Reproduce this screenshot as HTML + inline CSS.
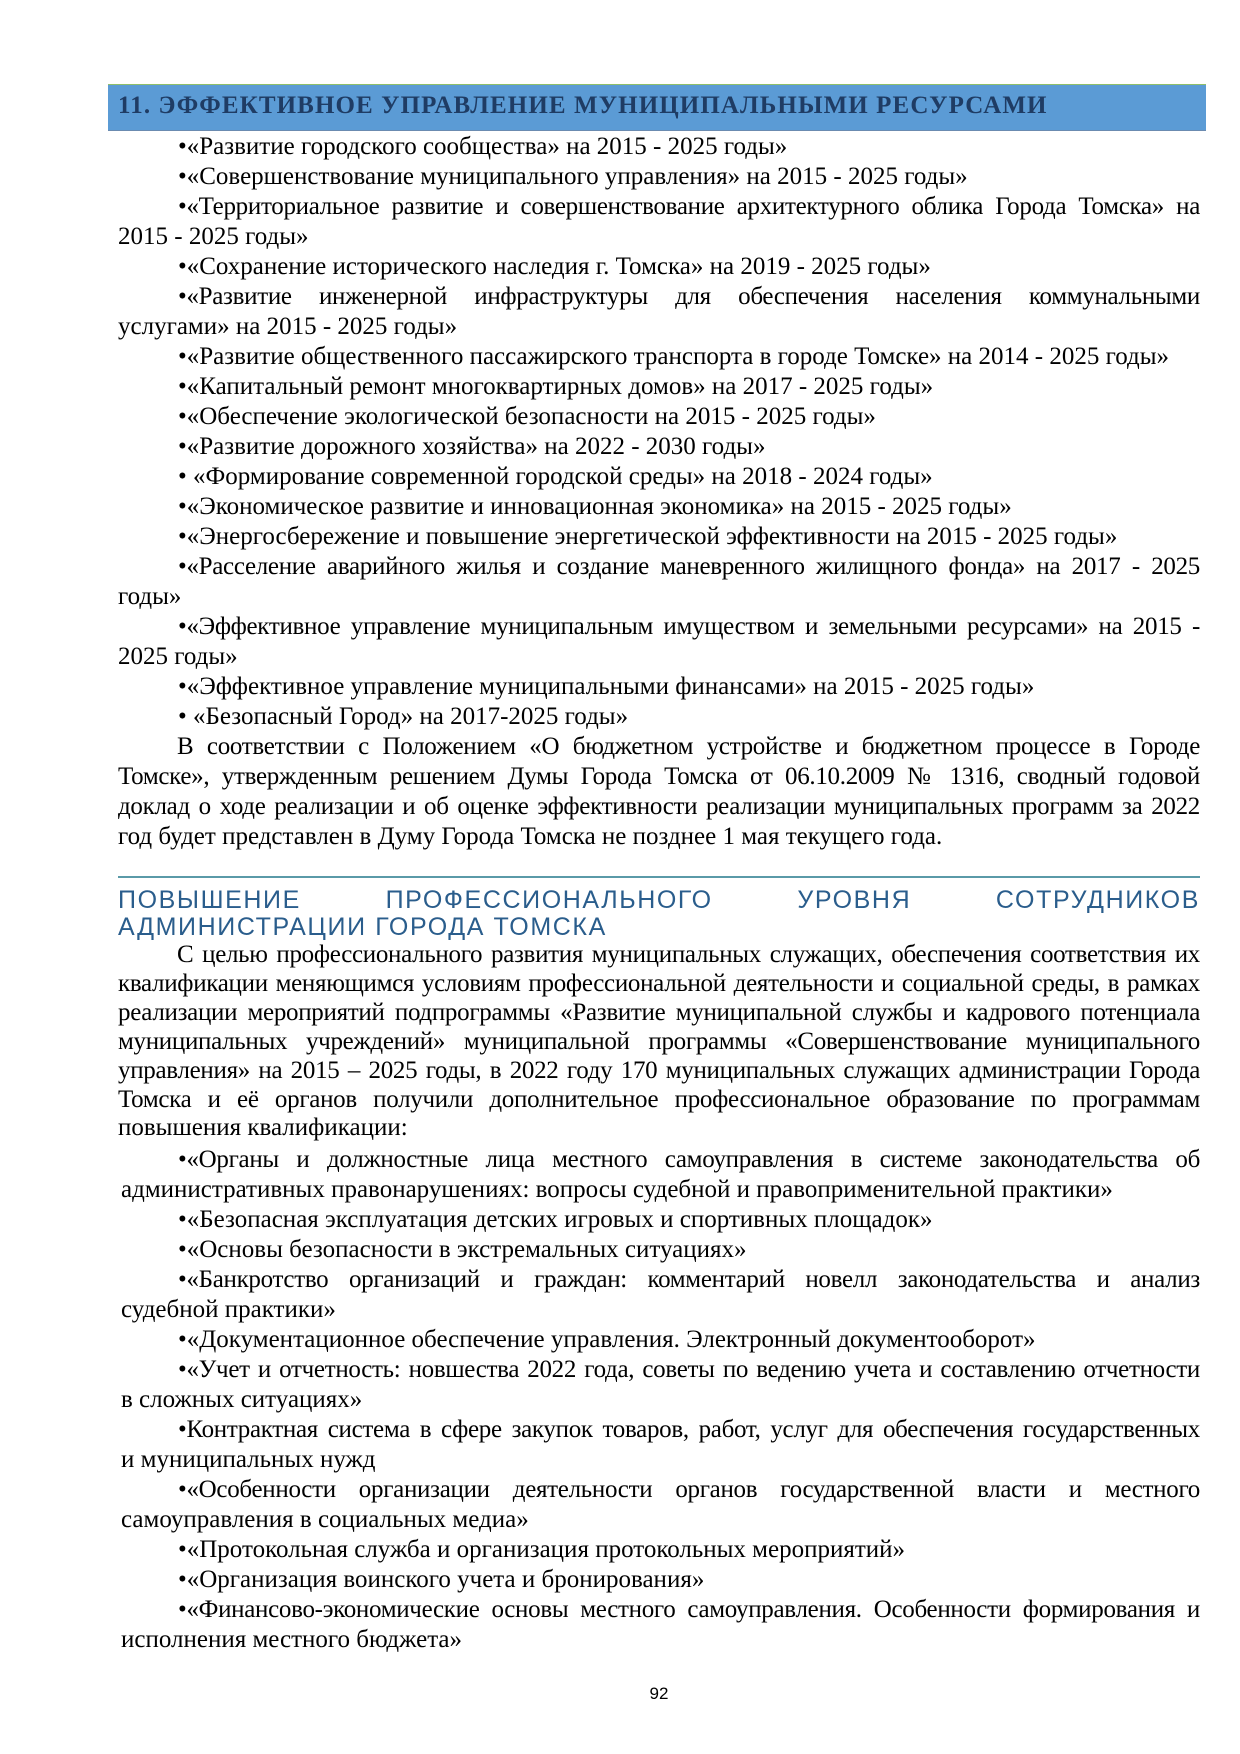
<!DOCTYPE html>
<html><head><meta charset="utf-8"><style>
body{margin:0;width:1240px;height:1754px;background:#fff;position:relative;overflow:hidden;font-family:"Liberation Serif","Noto Serif CJK SC",serif;color:#000}
.band{position:absolute;left:108px;top:84px;width:1098px;height:45px;background:#5b9bd5;border-top:1px solid #8fbf6a;border-bottom:1px solid #6b8bb0}
.title{position:absolute;left:118px;top:92px;font-weight:bold;font-size:25px;letter-spacing:1.1px;color:#1f3c64;white-space:nowrap}
.ln{position:absolute;left:118px;width:1082px;height:30px;line-height:30px;font-size:25px;white-space:nowrap;margin-top:-15px}
.j{text-align:justify;text-align-last:justify;white-space:normal;letter-spacing:-0.3px}
.b{left:178px;width:1022px}
.p{left:177px;width:1023px}
.s2{left:121px;width:1079px}
.h{font-family:"Liberation Sans",sans-serif;color:#2a5d8c;font-size:25px;letter-spacing:1.6px}
.rule{position:absolute;left:118px;top:876px;width:1082px;height:2px;background:#5a9aa8}
.pg{position:absolute;top:1684px;left:609px;width:100px;text-align:center;font-family:"Liberation Sans",sans-serif;font-size:17px}
</style></head><body>
<div class="band"></div>
<div class="title">11. ЭФФЕКТИВНОЕ УПРАВЛЕНИЕ МУНИЦИПАЛЬНЫМИ РЕСУРСАМИ</div>

<div class="ln b" style="top:147px">•«Развитие городского сообщества» на 2015 - 2025 годы»</div>
<div class="ln b" style="top:177px">•«Совершенствование муниципального управления» на 2015 - 2025 годы»</div>
<div class="ln b j" style="top:207px">•«Территориальное развитие и совершенствование архитектурного облика Города Томска» на</div>
<div class="ln" style="top:237px">2015 - 2025 годы»</div>
<div class="ln b" style="top:267px">•«Сохранение исторического наследия г. Томска» на 2019 - 2025 годы»</div>
<div class="ln b j" style="top:297px">•«Развитие инженерной инфраструктуры для обеспечения населения коммунальными</div>
<div class="ln" style="top:327px">услугами» на 2015 - 2025 годы»</div>
<div class="ln b" style="top:357px">•«Развитие общественного пассажирского транспорта в городе Томске» на 2014 - 2025 годы»</div>
<div class="ln b" style="top:387px">•«Капитальный ремонт многоквартирных домов» на 2017 - 2025 годы»</div>
<div class="ln b" style="top:417px">•«Обеспечение экологической безопасности на 2015 - 2025 годы»</div>
<div class="ln b" style="top:447px">•«Развитие дорожного хозяйства» на 2022 - 2030 годы»</div>
<div class="ln b" style="top:477px">• «Формирование современной городской среды» на 2018 - 2024 годы»</div>
<div class="ln b" style="top:507px">•«Экономическое развитие и инновационная экономика» на 2015 - 2025 годы»</div>
<div class="ln b" style="top:537px">•«Энергосбережение и повышение энергетической эффективности на 2015 - 2025 годы»</div>
<div class="ln b j" style="top:567px">•«Расселение аварийного жилья и создание маневренного жилищного фонда» на 2017 - 2025</div>
<div class="ln" style="top:597px">годы»</div>
<div class="ln b j" style="top:627px">•«Эффективное управление муниципальным имуществом и земельными ресурсами» на 2015 -</div>
<div class="ln" style="top:657px">2025 годы»</div>
<div class="ln b" style="top:687px">•«Эффективное управление муниципальными финансами» на 2015 - 2025 годы»</div>
<div class="ln b" style="top:717px">• «Безопасный Город» на 2017-2025 годы»</div>
<div class="ln p j" style="top:747px">В соответствии с Положением «О бюджетном устройстве и бюджетном процессе в Городе</div>
<div class="ln j" style="top:777px">Томске», утвержденным решением Думы Города Томска от 06.10.2009 № 1316, сводный годовой</div>
<div class="ln j" style="top:807px">доклад о ходе реализации и об оценке эффективности реализации муниципальных программ за 2022</div>
<div class="ln" style="top:837px">год будет представлен в Думу Города Томска не позднее 1 мая текущего года.</div>

<div class="rule"></div>
<div class="ln j h" style="top:900px">ПОВЫШЕНИЕ ПРОФЕССИОНАЛЬНОГО УРОВНЯ СОТРУДНИКОВ</div>
<div class="ln h" style="top:927px">АДМИНИСТРАЦИИ ГОРОДА ТОМСКА</div>

<div class="ln p j" style="top:955px">С целью профессионального развития муниципальных служащих, обеспечения соответствия их</div>
<div class="ln j" style="top:984px">квалификации меняющимся условиям профессиональной деятельности и социальной среды, в рамках</div>
<div class="ln j" style="top:1013px">реализации мероприятий подпрограммы «Развитие муниципальной службы и кадрового потенциала</div>
<div class="ln j" style="top:1042px">муниципальных учреждений» муниципальной программы «Совершенствование муниципального</div>
<div class="ln j" style="top:1071px">управления» на 2015 – 2025 годы, в 2022 году 170 муниципальных служащих администрации Города</div>
<div class="ln j" style="top:1100px">Томска и её органов получили дополнительное профессиональное образование по программам</div>
<div class="ln" style="top:1128px">повышения квалификации:</div>

<div class="ln b j" style="top:1160px">•«Органы и должностные лица местного самоуправления в системе законодательства об</div>
<div class="ln s2" style="top:1190px">административных правонарушениях: вопросы судебной и правоприменительной практики»</div>
<div class="ln b" style="top:1220px">•«Безопасная эксплуатация детских игровых и спортивных площадок»</div>
<div class="ln b" style="top:1250px">•«Основы безопасности в экстремальных ситуациях»</div>
<div class="ln b j" style="top:1280px">•«Банкротство организаций и граждан: комментарий новелл законодательства и анализ</div>
<div class="ln s2" style="top:1310px">судебной практики»</div>
<div class="ln b" style="top:1340px">•«Документационное обеспечение управления. Электронный документооборот»</div>
<div class="ln b j" style="top:1370px">•«Учет и отчетность: новшества 2022 года, советы по ведению учета и составлению отчетности</div>
<div class="ln s2" style="top:1400px">в сложных ситуациях»</div>
<div class="ln b j" style="top:1430px">•Контрактная система в сфере закупок товаров, работ, услуг для обеспечения государственных</div>
<div class="ln s2" style="top:1460px">и муниципальных нужд</div>
<div class="ln b j" style="top:1490px">•«Особенности организации деятельности органов государственной власти и местного</div>
<div class="ln s2" style="top:1520px">самоуправления в социальных медиа»</div>
<div class="ln b" style="top:1550px">•«Протокольная служба и организация протокольных мероприятий»</div>
<div class="ln b" style="top:1580px">•«Организация воинского учета и бронирования»</div>
<div class="ln b j" style="top:1610px">•«Финансово-экономические основы местного самоуправления. Особенности формирования и</div>
<div class="ln s2" style="top:1640px">исполнения местного бюджета»</div>

<div class="pg">92</div>
</body></html>
